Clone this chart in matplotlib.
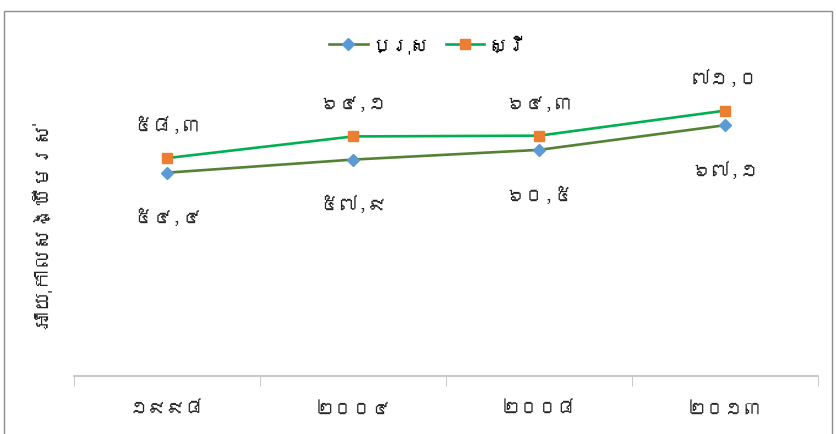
import matplotlib
matplotlib.use("Agg")
import matplotlib.pyplot as plt
from matplotlib import font_manager
from matplotlib.ft2font import FT2Font
from matplotlib.patches import Rectangle

years = ["១៩៩៨", "២០០៤", "២០០៨", "២០១៣"]
male = [54.4, 57.9, 60.5, 67.1]
female = [58.3, 64.1, 64.3, 71.0]
male_labels = ["៥៤,៤", "៥៧,៩", "៦០,៥", "៦៧,១"]
female_labels = ["៥៨,៣", "៦៤,១", "៦៤,៣", "៧១,០"]
series_names = ["ប្រុស", "ស្រី"]
ylabel = "អាយុកាលសង្ឃឹមរស់"

# find a font that covers Khmer
khmer_font = None
for path in sorted(font_manager.findSystemFonts()):
    try:
        f = FT2Font(path)
        cm = f.get_charmap()
        if 0x1780 in cm and 0x17E1 in cm:
            khmer_font = font_manager.FontProperties(fname=path).get_name()
            break
    except Exception:
        continue
fams = ([khmer_font] if khmer_font else []) + ["DejaVu Sans"]
plt.rcParams["font.family"] = fams

fig = plt.figure(figsize=(8.37, 4.35), dpi=100)
ax = fig.add_axes([74/837, 1-377/435, (818-74)/837, (377-78)/435])

x = list(range(len(years)))
ax.plot(x, male, color="#548235", lw=1.9, marker="D", ms=6,
        mfc="#5B9BD5", mec="#5B9BD5", label=series_names[0], zorder=3)
ax.plot(x, female, color="#00B050", lw=1.9, marker="s", ms=7.5,
        mfc="#ED7D31", mec="#ED7D31", label=series_names[1], zorder=3)

for xi, v, t in zip(x, male, male_labels):
    ax.annotate(t, (xi, v), xytext=(0, -38), textcoords="offset points",
                ha="center", va="bottom", fontsize=14, color="#262626")
for xi, v, t in zip(x, female, female_labels):
    ax.annotate(t, (xi, v), xytext=(0, 18), textcoords="offset points",
                ha="center", va="bottom", fontsize=14, color="#262626")

ax.set_xlim(-0.5, len(years) - 0.5)
ax.set_ylim(0, 80)
ax.set_yticks([])
ax.set_xticks(x)
ax.set_xticklabels(years, fontsize=13.5, color="#262626")
ax.set_xticks([i - 0.5 for i in range(len(years) + 1)], minor=True)
ax.tick_params(axis="x", which="major", length=0, pad=17)
ax.tick_params(axis="x", which="minor", length=7, color="#BFBFBF")
for s in ["top", "right", "left"]:
    ax.spines[s].set_visible(False)
ax.spines["bottom"].set_color("#BFBFBF")
ax.spines["bottom"].set_linewidth(1.2)

fig.text(40/837, 1-225/435, ylabel, rotation=90, ha="center", va="center",
         fontsize=15, color="#262626")

fig.legend(loc="center", bbox_to_anchor=(428/837, 1-45/435), ncol=2,
           frameon=False, fontsize=14, handlelength=2.0, columnspacing=0.8,
           handletextpad=0.2)

fig.patches.append(Rectangle((4/837, -0.05), 828/837, 1-12/435+0.05,
                             transform=fig.transFigure, fill=False,
                             edgecolor="#8C8C8C", lw=1.0))

fig.savefig("out.png", dpi=100)
